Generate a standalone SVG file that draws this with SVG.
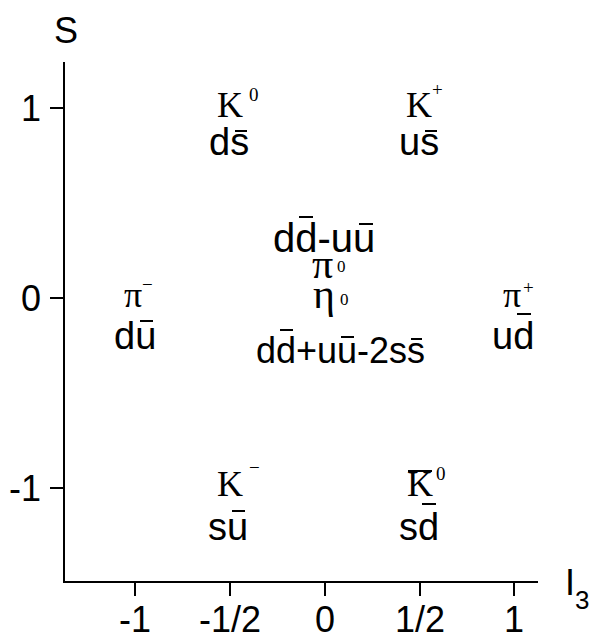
<svg xmlns="http://www.w3.org/2000/svg" width="595" height="639" viewBox="0 0 595 639">
<style>
.ax{stroke:#000;stroke-width:2;fill:none}
.bar{stroke:#000;stroke-width:2}
.t{font-family:"Liberation Sans",Arial,sans-serif;font-size:36px;fill:#000}
.q{font-family:"Liberation Sans",Arial,sans-serif;font-size:38px;fill:#000}
.m{font-family:"Liberation Serif","Times New Roman",serif;font-size:36px;fill:#000}
.g{font-family:"Liberation Serif","Times New Roman",serif;font-size:42px;fill:#000}
.s{font-family:"Liberation Serif","Times New Roman",serif;font-size:19px;fill:#000}
</style>
<rect width="595" height="639" fill="#fff"/>
<g id="axes">
<path class="ax" d="M64,62 V582 H538"/>
<path class="ax" d="M50,108 H64 M50,298 H64 M50,488 H64"/>
<path class="ax" d="M135,582 V596 M230,582 V596 M325,582 V596 M420,582 V596 M514,582 V596"/>
<text class="t" x="54" y="43">S</text>
<text class="t" x="565" y="595">I<tspan style="font-size:26px" dy="14">3</tspan></text>
<text class="t" x="41" y="121" text-anchor="end">1</text>
<text class="t" x="41" y="311" text-anchor="end">0</text>
<text class="t" x="41" y="501" text-anchor="end">-1</text>
<text class="t" x="135" y="632" text-anchor="middle">-1</text>
<text class="t" x="230" y="632" text-anchor="middle">-1/2</text>
<text class="t" x="325" y="632" text-anchor="middle">0</text>
<text class="t" x="420" y="632" text-anchor="middle">1/2</text>
<text class="t" x="514" y="632" text-anchor="middle">1</text>
</g>
<g id="K0">
<text class="m" x="217" y="117">K</text><text class="s" x="249" y="101">0</text>
<text class="q" x="209" y="155">ds</text>
<line class="bar" x1="235" y1="131" x2="247" y2="131"/>
</g>
<g id="Kplus">
<text class="m" x="406" y="117">K</text><text class="s" x="432" y="96">+</text>
<text class="q" x="399" y="155">us</text>
<line class="bar" x1="425" y1="131" x2="437" y2="131"/>
</g>
<g id="piminus">
<text class="m" x="124" y="307">π</text><text class="s" x="142" y="291">−</text>
<text class="q" x="114" y="349">du</text>
<line class="bar" x1="140" y1="321" x2="153" y2="321"/>
</g>
<g id="piplus">
<text class="m" x="503" y="307">π</text><text class="s" x="523" y="294">+</text>
<text class="q" x="492" y="349">ud</text>
<line class="bar" x1="517" y1="314" x2="531" y2="314"/>
</g>
<g id="center">
<text class="q" x="273" y="252" style="font-size:40px">dd-uu</text>
<line class="bar" x1="299" y1="217" x2="313" y2="217"/>
<line class="bar" x1="359" y1="224" x2="373" y2="224"/>
<text class="g" x="312" y="278">π</text><text class="s" x="337" y="272" style="font-size:17px">0</text>
<text class="g" x="313" y="308">η</text><text class="s" x="340" y="305" style="font-size:17px">0</text>
<text class="q" x="256" y="363" style="font-size:36px">dd+uu-2ss</text>
<line class="bar" x1="280" y1="330" x2="293" y2="330"/>
<line class="bar" x1="341" y1="337" x2="354" y2="337"/>
<line class="bar" x1="411" y1="339" x2="422" y2="339"/>
</g>
<g id="Kminus">
<text class="m" x="217" y="496">K</text><text class="s" x="249" y="474">−</text>
<text class="q" x="208" y="540">su</text>
<line class="bar" x1="232" y1="511" x2="245" y2="511"/>
</g>
<g id="K0bar">
<text class="m" x="407" y="496">K</text><text class="s" x="436" y="480">0</text>
<line class="bar" x1="408" y1="471" x2="432" y2="471"/>
<text class="q" x="399" y="540">sd</text>
<line class="bar" x1="422" y1="504" x2="436" y2="504"/>
</g>
</svg>
